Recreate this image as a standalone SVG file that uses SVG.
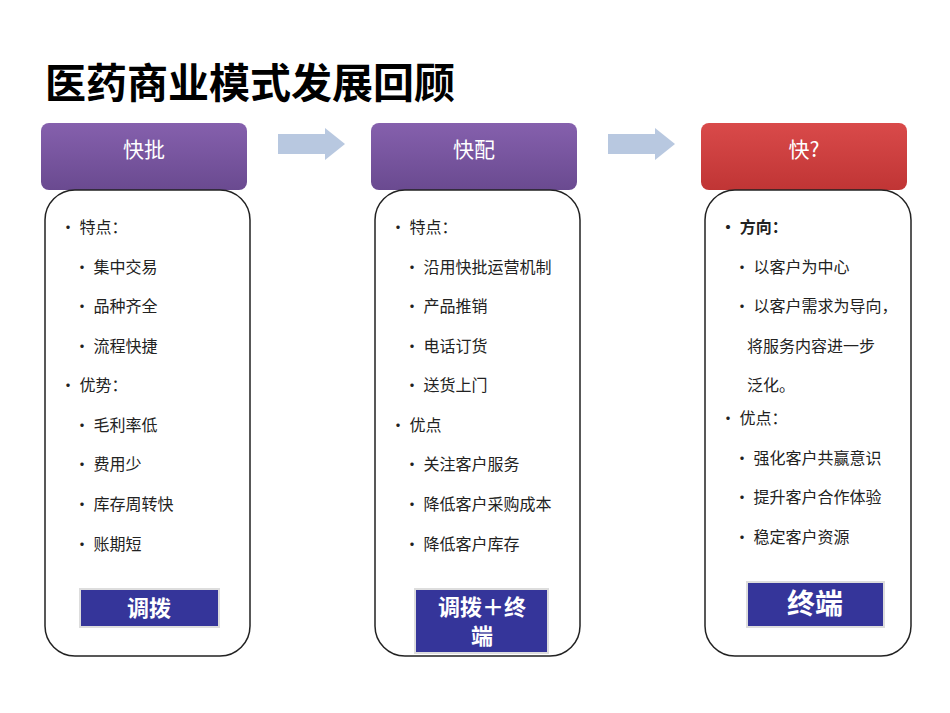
<svg xmlns="http://www.w3.org/2000/svg" width="950" height="713" viewBox="0 0 950 713">
<style>
text{font-family:"Noto Sans CJK SC",sans-serif}
.t{font-size:16px;fill:#222}
.h{font-size:21px;fill:#fff;text-anchor:middle}
.body{fill:#fff;stroke:#222;stroke-width:1.5}
.lbl{fill:#35359a;stroke:#ddd;stroke-width:2}
.lt{font-size:22px;font-weight:bold;fill:#fff;text-anchor:middle}
.arr{fill:#b8c8e0}
</style>
<defs>
<linearGradient id="pg" x1="0" y1="0" x2="0" y2="1"><stop offset="0" stop-color="#8560ad"/><stop offset="1" stop-color="#6a4a90"/></linearGradient>
<linearGradient id="rg" x1="0" y1="0" x2="0" y2="1"><stop offset="0" stop-color="#d94a4a"/><stop offset="1" stop-color="#c03535"/></linearGradient>
</defs>
<rect width="950" height="713" fill="#fff"/>
<text x="45" y="98" style="font-size:41px;font-weight:bold;fill:#000">医药商业模式发展回顾</text>
<g id="connectors">
<path class="arr" d="M278,134H325V128L345,144L325,160V154H278Z"/>
<path class="arr" d="M608,134H655V128L675,144L655,160V154H608Z"/>
</g>
<g id="col1">
<rect x="41" y="123" width="206" height="67" rx="8" fill="url(#pg)"/>
<text class="h" x="144" y="157">快批</text>
<rect class="body" x="45" y="190" width="205" height="466" rx="30"/>
<g class="t">
<text x="60" y="233">• 特点：</text>
<text x="74" y="273">• 集中交易</text>
<text x="74" y="312">• 品种齐全</text>
<text x="74" y="352">• 流程快捷</text>
<text x="60" y="391">• 优势：</text>
<text x="74" y="431">• 毛利率低</text>
<text x="74" y="470">• 费用少</text>
<text x="74" y="510">• 库存周转快</text>
<text x="74" y="550">• 账期短</text>
</g>
<rect class="lbl" x="80" y="589" width="139" height="38"/>
<text class="lt" x="149" y="616">调拨</text>
</g>
<g id="col2">
<rect x="371" y="123" width="206" height="67" rx="8" fill="url(#pg)"/>
<text class="h" x="474" y="157">快配</text>
<rect class="body" x="375" y="190" width="205" height="466" rx="30"/>
<g class="t">
<text x="390" y="233">• 特点：</text>
<text x="404" y="273">• 沿用快批运营机制</text>
<text x="404" y="312">• 产品推销</text>
<text x="404" y="352">• 电话订货</text>
<text x="404" y="391">• 送货上门</text>
<text x="390" y="431">• 优点</text>
<text x="404" y="470">• 关注客户服务</text>
<text x="404" y="510">• 降低客户采购成本</text>
<text x="404" y="550">• 降低客户库存</text>
</g>
<rect class="lbl" x="415" y="589" width="133" height="64"/>
<text class="lt" x="482" y="615">调拨＋终</text>
<text class="lt" x="482" y="644">端</text>
</g>
<g id="col3">
<rect x="701" y="123" width="206" height="67" rx="8" fill="url(#rg)"/>
<text class="h" x="804" y="157">快?</text>
<rect class="body" x="705" y="190" width="206" height="466" rx="30"/>
<g class="t">
<text x="720" y="233" font-weight="bold">• 方向：</text>
<text x="734" y="273">• 以客户为中心</text>
<text x="734" y="312">• 以客户需求为导向，</text>
<text x="747" y="352">将服务内容进一步</text>
<text x="747" y="391">泛化。</text>
<text x="720" y="424">• 优点：</text>
<text x="734" y="464">• 强化客户共赢意识</text>
<text x="734" y="503">• 提升客户合作体验</text>
<text x="734" y="543">• 稳定客户资源</text>
</g>
<rect class="lbl" x="747" y="582" width="137" height="45"/>
<text class="lt" x="815" y="614" style="font-size:28px">终端</text>
</g>
</svg>
